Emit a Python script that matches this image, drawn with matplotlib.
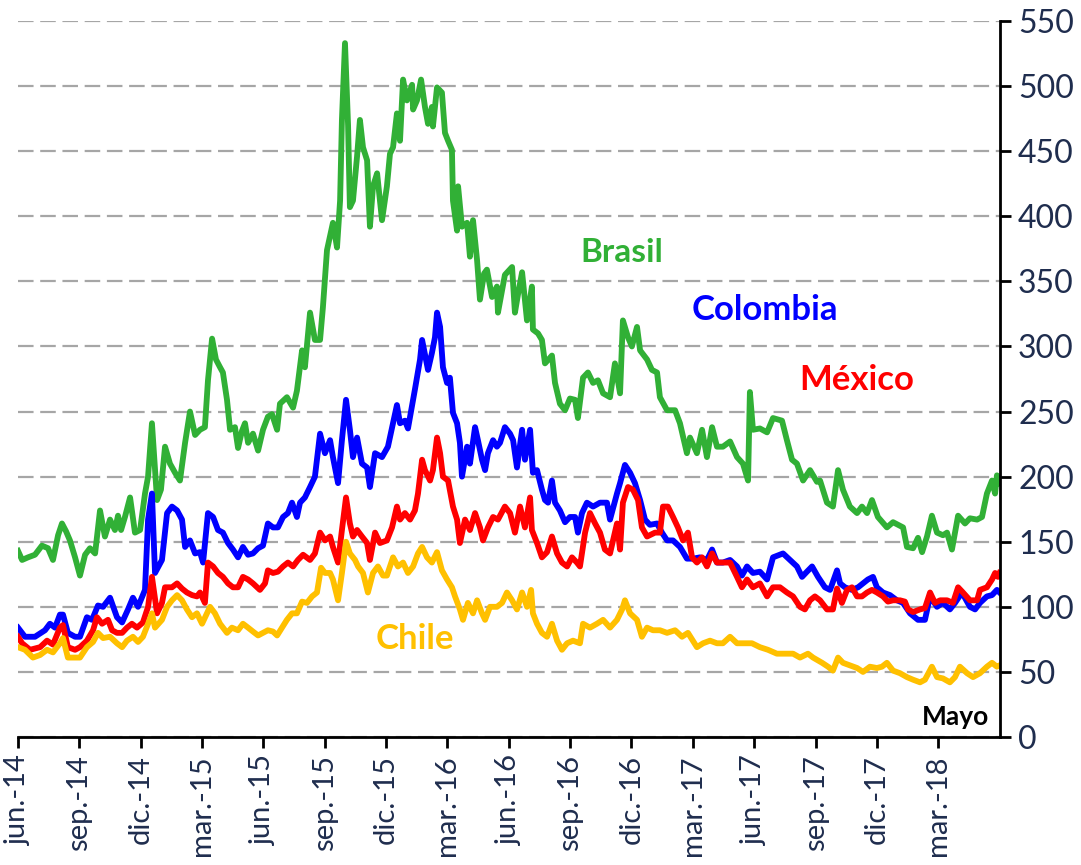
import matplotlib
matplotlib.use('Agg')
import matplotlib.pyplot as plt

# Spreads CDS 5 años (pb), jun-2014 a may-2018; tiempo en meses desde jun-2014

t_brasil = [0.00, 0.20, 0.49, 0.83, 1.17, 1.47, 1.71, 1.96, 2.15, 2.35,
            2.54, 2.79, 3.03, 3.28, 3.52, 3.77, 4.01, 4.25, 4.50, 4.74,
            4.89, 5.04, 5.23, 5.48, 5.72, 5.97, 6.21, 6.36, 6.55, 6.80,
            6.99, 7.19, 7.43, 7.68, 7.92, 8.17, 8.41, 8.66, 8.90, 9.14,
            9.29, 9.49, 9.68, 9.88, 10.02, 10.22, 10.37, 10.61, 10.76, 10.95,
            11.10, 11.25, 11.49, 11.74, 11.98, 12.22, 12.42, 12.67, 12.81, 13.15,
            13.45, 13.64, 13.89, 14.03, 14.28, 14.52, 14.77, 14.91, 15.11, 15.40,
            15.60, 15.75, 15.84, 15.99, 16.14, 16.23, 16.38, 16.58, 16.72, 16.87,
            17.07, 17.21, 17.36, 17.56, 17.80, 18.04, 18.19, 18.34, 18.53, 18.68,
            18.83, 19.02, 19.27, 19.32, 19.51, 19.71, 19.90, 20.05, 20.24, 20.29,
            20.49, 20.73, 20.88, 21.03, 21.22, 21.27, 21.47, 21.52, 21.71, 21.96,
            22.10, 22.25, 22.45, 22.59, 22.79, 22.93, 23.18, 23.42, 23.47, 23.81,
            24.16, 24.30, 24.45, 24.65, 24.89, 25.13, 25.18, 25.43, 25.62, 25.77,
            26.11, 26.26, 26.50, 26.75, 26.99, 27.24, 27.38, 27.63, 27.87, 28.12,
            28.36, 28.61, 28.95, 29.19, 29.44, 29.58, 29.83, 30.02, 30.27, 30.42,
            30.76, 31.00, 31.25, 31.39, 31.74, 32.13, 32.37, 32.71, 32.86, 33.20,
            33.45, 33.69, 33.94, 34.18, 34.47, 34.82, 35.16, 35.45, 35.70, 35.79,
            35.94, 36.28, 36.63, 36.92, 37.36, 37.60, 37.85, 38.09, 38.39, 38.73,
            39.07, 39.22, 39.56, 39.85, 40.10, 40.34, 40.68, 41.03, 41.27, 41.52,
            41.76, 42.05, 42.49, 42.79, 43.28, 43.47, 43.77, 44.01, 44.21, 44.45,
            44.69, 44.94, 45.23, 45.43, 45.67, 45.97, 46.31, 46.55, 46.90, 47.14,
            47.38, 47.63, 47.78, 47.87, 48.00]
brasil = [143, 136, 138, 140, 147, 145, 136, 155, 164, 158,
          151, 138, 124, 140, 145, 141, 174, 154, 167, 159,
          170, 159, 169, 184, 157, 159, 187, 200, 241, 182,
          190, 223, 210, 203, 197, 226, 250, 232, 236, 238,
          274, 306, 290, 284, 280, 259, 236, 238, 222, 235,
          241, 226, 233, 220, 236, 246, 248, 236, 256, 261,
          253, 266, 297, 284, 326, 305, 305, 330, 374, 395,
          376, 412, 474, 533, 470, 407, 412, 446, 474, 453,
          443, 392, 423, 433, 397, 423, 448, 453, 479, 458,
          505, 489, 501, 482, 489, 505, 484, 471, 484, 469,
          499, 495, 464, 458, 451, 412, 389, 423, 392, 395,
          369, 397, 366, 336, 356, 359, 338, 346, 326, 355,
          361, 326, 340, 357, 320, 346, 313, 310, 305, 287,
          293, 272, 256, 251, 260, 259, 245, 276, 280, 272,
          274, 264, 261, 287, 264, 320, 307, 300, 315, 297,
          290, 282, 280, 261, 251, 251, 241, 218, 230, 218,
          236, 215, 238, 223, 223, 227, 215, 210, 197, 265,
          236, 237, 234, 245, 243, 228, 213, 210, 197, 205,
          196, 197, 180, 177, 205, 190, 177, 172, 177, 172,
          182, 169, 161, 165, 161, 146, 145, 153, 142, 154,
          170, 157, 155, 157, 144, 170, 164, 168, 167, 169,
          187, 197, 187, 201, 195]

t_colombia = [0.00, 0.34, 0.83, 1.32, 1.56, 1.81, 2.05, 2.20, 2.44, 2.79,
              3.03, 3.37, 3.62, 3.91, 4.16, 4.50, 4.84, 5.09, 5.38, 5.62,
              5.87, 6.21, 6.36, 6.55, 6.70, 7.04, 7.29, 7.53, 7.78, 8.02,
              8.17, 8.41, 8.66, 8.90, 9.05, 9.29, 9.54, 9.78, 10.02, 10.27,
              10.51, 10.76, 11.00, 11.25, 11.49, 11.74, 11.98, 12.22, 12.47, 12.71,
              12.96, 13.20, 13.40, 13.64, 13.79, 14.03, 14.28, 14.52, 14.77, 15.01,
              15.26, 15.40, 15.65, 15.84, 16.04, 16.23, 16.38, 16.58, 16.82, 17.07,
              17.21, 17.46, 17.80, 18.09, 18.34, 18.53, 18.68, 18.92, 19.07, 19.41,
              19.66, 19.76, 19.95, 20.05, 20.24, 20.39, 20.49, 20.64, 20.78, 20.98,
              21.12, 21.27, 21.47, 21.61, 21.71, 21.96, 22.10, 22.35, 22.49, 22.69,
              22.84, 22.98, 23.23, 23.42, 23.57, 23.81, 24.06, 24.21, 24.40, 24.65,
              24.79, 25.04, 25.18, 25.38, 25.62, 25.77, 25.92, 26.11, 26.26, 26.50,
              26.75, 26.99, 27.24, 27.38, 27.58, 27.82, 28.12, 28.46, 28.80, 28.95,
              29.29, 29.44, 29.68, 29.93, 30.17, 30.42, 30.66, 30.90, 31.25, 31.49,
              31.74, 32.03, 32.37, 32.71, 33.01, 33.35, 33.69, 33.94, 34.18, 34.47,
              34.82, 35.16, 35.40, 35.65, 35.94, 36.28, 36.63, 36.92, 37.41, 37.75,
              38.09, 38.34, 38.58, 38.83, 39.12, 39.46, 39.71, 40.05, 40.20, 40.44,
              40.78, 41.08, 41.32, 41.56, 41.81, 42.00, 42.30, 42.64, 42.98, 43.28,
              43.62, 44.01, 44.35, 44.60, 44.94, 45.23, 45.57, 45.82, 46.16, 46.55,
              46.80, 47.04, 47.38, 47.63, 47.87, 48.00]
colombia = [84, 77, 77, 82, 87, 84, 94, 94, 80, 77,
            77, 92, 90, 101, 100, 107, 92, 88, 98, 107,
            100, 113, 167, 187, 126, 136, 172, 177, 174, 167,
            146, 151, 141, 142, 134, 172, 169, 159, 157, 149,
            144, 138, 146, 140, 141, 145, 147, 164, 161, 161,
            169, 172, 180, 169, 180, 184, 192, 200, 233, 218,
            228, 215, 195, 228, 259, 236, 215, 230, 210, 207,
            192, 218, 215, 223, 241, 255, 241, 243, 237, 267,
            290, 305, 290, 282, 295, 307, 326, 315, 284, 272,
            276, 249, 241, 226, 200, 223, 210, 238, 228, 213,
            205, 218, 228, 223, 226, 238, 233, 228, 207, 236,
            213, 236, 203, 205, 190, 182, 180, 197, 180, 174,
            165, 169, 169, 157, 172, 180, 177, 180, 180, 167,
            187, 195, 209, 203, 195, 182, 167, 163, 164, 157,
            151, 151, 146, 137, 137, 138, 136, 144, 134, 134,
            136, 131, 124, 131, 126, 127, 121, 138, 141, 136,
            131, 123, 127, 131, 123, 115, 113, 128, 118, 115,
            113, 115, 118, 121, 123, 115, 111, 109, 105, 103,
            95, 90, 90, 108, 100, 103, 98, 103, 111, 100,
            98, 103, 108, 109, 113, 111]

t_mexico = [0.00, 0.20, 0.59, 1.08, 1.42, 1.71, 2.05, 2.20, 2.44, 2.79,
            3.03, 3.37, 3.67, 3.86, 4.11, 4.40, 4.60, 4.84, 5.09, 5.33,
            5.57, 5.82, 6.11, 6.36, 6.55, 6.80, 7.04, 7.19, 7.53, 7.78,
            8.02, 8.26, 8.51, 8.75, 8.90, 9.14, 9.29, 9.54, 9.78, 10.02,
            10.27, 10.51, 10.76, 11.00, 11.25, 11.49, 11.83, 12.08, 12.22, 12.47,
            12.71, 12.96, 13.20, 13.45, 13.69, 13.94, 14.28, 14.52, 14.77, 15.01,
            15.26, 15.40, 15.65, 15.84, 16.04, 16.23, 16.38, 16.58, 16.82, 17.07,
            17.21, 17.46, 17.70, 18.04, 18.29, 18.53, 18.68, 18.92, 19.17, 19.41,
            19.56, 19.76, 19.90, 20.15, 20.29, 20.49, 20.64, 20.78, 21.03, 21.27,
            21.47, 21.61, 21.86, 22.10, 22.35, 22.59, 22.74, 22.98, 23.23, 23.47,
            23.81, 24.06, 24.30, 24.55, 24.79, 25.04, 25.13, 25.38, 25.62, 25.87,
            26.11, 26.36, 26.60, 26.85, 27.09, 27.33, 27.48, 27.73, 27.97, 28.22,
            28.46, 28.70, 28.95, 29.29, 29.44, 29.58, 29.83, 30.07, 30.32, 30.51,
            30.76, 31.15, 31.39, 31.54, 31.78, 32.03, 32.27, 32.52, 32.76, 32.96,
            33.20, 33.45, 33.69, 33.94, 34.18, 34.47, 34.82, 35.16, 35.40, 35.65,
            35.94, 36.28, 36.63, 36.92, 37.26, 37.60, 37.90, 38.24, 38.48, 38.73,
            38.97, 39.22, 39.56, 39.85, 40.05, 40.29, 40.54, 40.78, 41.03, 41.27,
            41.52, 41.76, 42.00, 42.30, 42.54, 42.79, 43.13, 43.37, 43.52, 43.77,
            44.11, 44.35, 44.60, 44.84, 45.09, 45.43, 45.72, 45.97, 46.21, 46.55,
            46.90, 47.04, 47.38, 47.63, 47.78, 47.92, 48.00]
mexico = [77, 72, 67, 69, 74, 71, 84, 86, 69, 67,
          69, 74, 82, 92, 87, 90, 82, 80, 80, 84,
          87, 84, 88, 100, 123, 95, 103, 115, 115, 118,
          114, 111, 109, 108, 111, 103, 134, 131, 126, 123,
          118, 115, 115, 123, 121, 118, 113, 118, 128, 126,
          127, 131, 134, 131, 136, 140, 136, 141, 157, 151,
          154, 146, 134, 159, 184, 164, 154, 159, 154, 149,
          136, 157, 149, 151, 161, 177, 167, 172, 167, 174,
          187, 213, 205, 197, 205, 230, 218, 200, 197, 177,
          167, 149, 167, 159, 172, 161, 151, 161, 169, 167,
          177, 172, 157, 177, 161, 184, 159, 149, 138, 142,
          154, 141, 134, 131, 138, 134, 131, 157, 172, 164,
          157, 144, 141, 164, 144, 180, 192, 190, 182, 161,
          154, 157, 157, 177, 177, 169, 161, 151, 157, 138,
          134, 138, 131, 141, 134, 134, 134, 123, 115, 121,
          115, 118, 108, 115, 115, 111, 108, 100, 98, 105,
          108, 105, 98, 98, 114, 103, 113, 115, 108, 108,
          111, 113, 111, 108, 104, 105, 105, 104, 98, 96,
          98, 99, 111, 103, 105, 105, 103, 115, 111, 105,
          105, 113, 115, 121, 126, 123, 126]

t_chile = [0.00, 0.34, 0.73, 1.08, 1.42, 1.71, 2.05, 2.20, 2.44, 2.79,
           3.03, 3.37, 3.67, 3.91, 4.16, 4.50, 4.84, 5.09, 5.33, 5.62,
           5.87, 6.11, 6.36, 6.55, 6.70, 7.04, 7.29, 7.53, 7.78, 8.02,
           8.26, 8.51, 8.75, 9.00, 9.24, 9.39, 9.63, 9.88, 10.22, 10.46,
           10.76, 11.00, 11.25, 11.49, 11.74, 11.98, 12.22, 12.47, 12.67, 12.91,
           13.15, 13.40, 13.64, 13.89, 14.13, 14.38, 14.62, 14.82, 15.01, 15.26,
           15.40, 15.65, 15.84, 16.04, 16.23, 16.48, 16.63, 16.87, 17.11, 17.36,
           17.60, 17.85, 18.04, 18.34, 18.58, 18.83, 19.07, 19.32, 19.56, 19.76,
           20.00, 20.24, 20.49, 20.73, 20.98, 21.22, 21.37, 21.61, 21.76, 22.00,
           22.25, 22.45, 22.69, 22.84, 23.08, 23.42, 23.67, 23.91, 24.16, 24.40,
           24.65, 24.89, 25.09, 25.18, 25.38, 25.62, 25.87, 26.11, 26.36, 26.60,
           26.85, 27.14, 27.48, 27.63, 27.97, 28.31, 28.61, 28.95, 29.29, 29.54,
           29.68, 29.93, 30.27, 30.51, 30.76, 31.05, 31.39, 31.74, 32.13, 32.47,
           32.76, 33.20, 33.50, 33.84, 34.18, 34.47, 34.82, 35.16, 35.45, 35.89,
           36.28, 36.67, 37.11, 37.51, 37.90, 38.24, 38.63, 38.88, 39.32, 39.61,
           39.85, 40.10, 40.34, 40.68, 41.03, 41.32, 41.66, 42.00, 42.25, 42.49,
           42.79, 43.13, 43.47, 43.77, 44.11, 44.35, 44.69, 44.94, 45.23, 45.57,
           45.82, 46.06, 46.41, 46.70, 47.04, 47.38, 47.63, 47.87, 48.00]
chile = [69, 67, 61, 63, 67, 65, 72, 76, 61, 61,
         61, 69, 73, 80, 76, 77, 72, 69, 74, 77,
         73, 77, 87, 95, 84, 90, 100, 105, 109, 105,
         98, 92, 95, 87, 95, 100, 95, 87, 80, 84,
         82, 87, 84, 81, 78, 80, 82, 81, 78, 84,
         90, 95, 95, 104, 103, 108, 111, 130, 126, 126,
         121, 105, 126, 150, 141, 136, 131, 126, 111, 126,
         131, 124, 124, 138, 131, 134, 126, 131, 141, 146,
         138, 134, 142, 128, 121, 115, 108, 98, 90, 103,
         95, 105, 95, 90, 100, 100, 103, 111, 105, 98,
         111, 100, 113, 95, 87, 80, 77, 87, 74, 67,
         72, 74, 72, 87, 84, 87, 90, 84, 90, 98,
         105, 95, 90, 77, 84, 82, 82, 80, 82, 77,
         80, 69, 72, 74, 72, 72, 77, 72, 72, 72,
         69, 67, 64, 64, 64, 61, 64, 61, 57, 54,
         51, 61, 57, 55, 53, 50, 54, 53, 54, 57,
         51, 49, 46, 44, 42, 44, 54, 46, 45, 42,
         46, 54, 49, 46, 49, 54, 57, 54, 55]

meses = ['jun.-14', 'sep.-14', 'dic.-14', 'mar.-15', 'jun.-15', 'sep.-15',
         'dic.-15', 'mar.-16', 'jun.-16', 'sep.-16', 'dic.-16', 'mar.-17',
         'jun.-17', 'sep.-17', 'dic.-17', 'mar.-18']

plt.rcParams['font.family'] = ['Lato', 'DejaVu Sans']

verde = '#31B036'
azul = '#0000FF'
rojo = '#FF0000'
amarillo = '#FFC000'
texto = '#1F2D4E'

fig = plt.figure(figsize=(10.81, 8.65), dpi=100)
ax = fig.add_axes([18 / 1081, 1 - 737 / 865, 982 / 1081, 716 / 865])

ax.plot(t_brasil, brasil, color=verde, lw=4.2, solid_joinstyle='round')
ax.plot(t_colombia, colombia, color=azul, lw=4.2, solid_joinstyle='round')
ax.plot(t_mexico, mexico, color=rojo, lw=4.2, solid_joinstyle='round')
ax.plot(t_chile, chile, color=amarillo, lw=4.2, solid_joinstyle='round')

ax.set_xlim(0, 48.02)
ax.set_ylim(0, 550)
ax.set_yticks(range(0, 551, 50))
ax.yaxis.tick_right()
ax.set_xticks(range(0, 46, 3))
ax.set_xticklabels(meses, rotation=90)

ax.grid(axis='y', color='#A6A6A6', lw=1.6, linestyle=(0, (7, 3)))
ax.set_axisbelow(True)
for s in ['left', 'top']:
    ax.spines[s].set_visible(False)
for s in ['right', 'bottom']:
    ax.spines[s].set_linewidth(2)
    ax.spines[s].set_color('black')

ax.tick_params(axis='y', direction='out', length=8, width=2, color='black',
               labelcolor=texto, labelsize=23, pad=5)
ax.tick_params(axis='x', direction='out', length=8, width=2, color='black',
               labelcolor=texto, labelsize=21, pad=5)

ax.text(29.54, 372, 'Brasil', color=verde, fontsize=24, fontweight='bold',
        ha='center', va='center')
ax.text(36.53, 328, 'Colombia', color=azul, fontsize=25, fontweight='bold',
        ha='center', va='center')
ax.text(41.03, 274, 'México', color=rojo, fontsize=25, fontweight='bold',
        ha='center', va='center')
ax.text(19.41, 75, 'Chile', color=amarillo, fontsize=25, fontweight='bold',
        ha='center', va='center')
ax.text(45.82, 15, 'Mayo', color='black', fontsize=19, fontweight='bold',
        ha='center', va='center')

fig.savefig('out.png', dpi=100)
